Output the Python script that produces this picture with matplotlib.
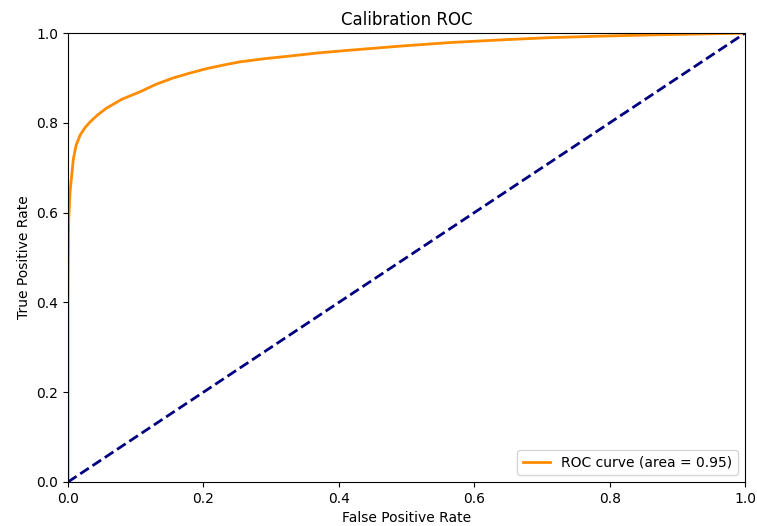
import matplotlib
matplotlib.use('Agg')
import matplotlib.pyplot as plt

# ROC curve points
fpr = [0.0, 0.0, 0.0005, 0.001, 0.003, 0.008, 0.012, 0.018, 0.025, 0.0325,
       0.044, 0.057, 0.08, 0.106, 0.13, 0.155, 0.18, 0.205, 0.23, 0.254,
       0.29, 0.328, 0.37, 0.4165, 0.49, 0.564, 0.64, 0.712, 0.78, 0.86,
       0.93, 1.0]
tpr = [0.0, 0.40, 0.50, 0.58, 0.646, 0.72, 0.75, 0.773, 0.789, 0.802,
       0.818, 0.833, 0.853, 0.869, 0.886, 0.90, 0.911, 0.921, 0.929, 0.936,
       0.943, 0.949, 0.956, 0.962, 0.971, 0.979, 0.985, 0.990, 0.993, 0.996,
       0.998, 1.0]
roc_auc = 0.95

fig = plt.figure(figsize=(7.57, 5.26), dpi=100)
ax = fig.add_axes([0.0898, 0.0837, 0.8944, 0.8533])

ax.plot(fpr, tpr, color='darkorange', lw=2, label='ROC curve (area = %0.2f)' % roc_auc)
ax.plot([0, 1], [0, 1], color='navy', lw=2, linestyle='--')
ax.set_xlim(0.0, 1.0)
ax.set_ylim(0.0, 1.0)
ax.set_xlabel('False Positive Rate')
ax.set_ylabel('True Positive Rate')
ax.set_title('Calibration ROC')
ax.legend(loc='lower right')

fig.savefig('out.png', dpi=100)
